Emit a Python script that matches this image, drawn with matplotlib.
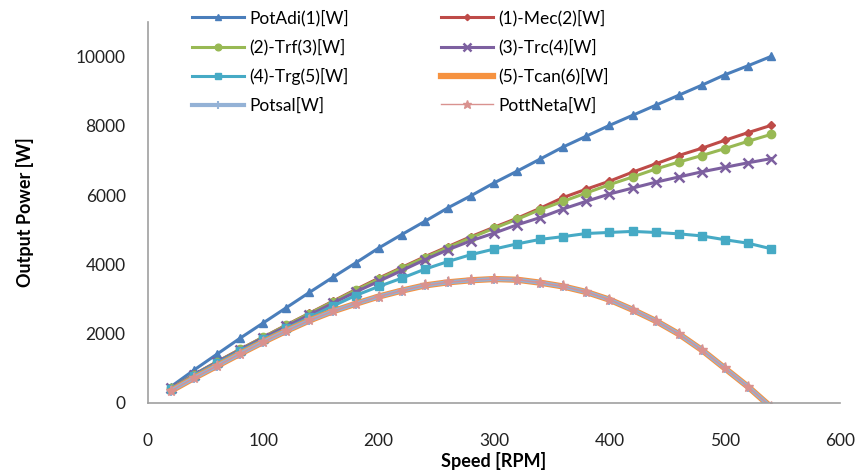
import numpy as np
import matplotlib.pyplot as plt

plt.rcParams['font.family'] = ['Lato', 'DejaVu Sans']

speed = list(range(20, 541, 20))

pot_adi = [470, 950, 1410, 1870, 2310, 2750, 3190, 3620, 4040, 4470, 4860, 5240, 5630, 5980,
           6350, 6690, 7040, 7390, 7700, 8010, 8300, 8590, 8880, 9170, 9470, 9730, 10000]
mec = [430, 820, 1190, 1550, 1900, 2250, 2590, 2930, 3270, 3600, 3910, 4220, 4510, 4800,
       5070, 5330, 5620, 5930, 6170, 6400, 6660, 6900, 7140, 7350, 7580, 7800, 8010]
trf = [425, 815, 1185, 1545, 1895, 2240, 2580, 2915, 3250, 3575, 3890, 4195, 4485, 4770,
       5040, 5300, 5580, 5820, 6060, 6300, 6520, 6750, 6950, 7140, 7340, 7550, 7750]
trc = [420, 810, 1175, 1530, 1875, 2210, 2540, 2870, 3200, 3510, 3820, 4130, 4420, 4680,
       4900, 5140, 5350, 5600, 5820, 6030, 6200, 6370, 6520, 6670, 6800, 6930, 7050]
trg = [410, 790, 1150, 1500, 1830, 2150, 2470, 2790, 3100, 3360, 3600, 3860, 4080, 4280,
       4440, 4590, 4720, 4800, 4890, 4920, 4950, 4920, 4880, 4820, 4710, 4610, 4450]
tcan = [350, 720, 1070, 1420, 1760, 2080, 2380, 2640, 2860, 3070, 3240, 3390, 3480, 3540,
        3575, 3555, 3470, 3360, 3200, 2980, 2690, 2370, 1990, 1530, 1000, 470, -120]
potsal = list(tcan)
pott_neta = list(tcan)

fig = plt.figure(figsize=(8.6, 4.74), dpi=100)
ax = fig.add_axes([0.172, 0.150, 0.805, 0.804])

h1, = ax.plot(speed, pot_adi, color='#4A7EBB', lw=2.2, marker='^', ms=6, label='PotAdi(1)[W]')
h2, = ax.plot(speed, mec, color='#BE4B48', lw=2.2, marker='D', ms=4, label='(1)-Mec(2)[W]')
h3, = ax.plot(speed, trf, color='#98B954', lw=2.2, marker='o', ms=6, label='(2)-Trf(3)[W]')
h4, = ax.plot(speed, trc, color='#7D60A0', lw=2.2, marker='x', ms=7, mew=1.8, label='(3)-Trc(4)[W]')
h5, = ax.plot(speed, trg, color='#46AAC5', lw=2.2, marker='s', ms=6, label='(4)-Trg(5)[W]')
h6, = ax.plot(speed, tcan, color='#F69240', lw=4.5, label='(5)-Tcan(6)[W]')
h7, = ax.plot(speed, potsal, color='#94B2D6', lw=3, marker='|', ms=7, mew=1.5, label='Potsal[W]')
h8, = ax.plot(speed, pott_neta, color='#D9928F', lw=1, marker='*', ms=8, label='PottNeta[W]')

ax.set_xlim(0, 600)
ax.set_ylim(0, 11000)
ax.set_xticks(np.arange(0, 601, 100))
ax.set_yticks(np.arange(0, 10001, 2000))
ax.tick_params(length=0, labelsize=12.5, colors='#222222')
ax.tick_params(axis='x', pad=22)
ax.tick_params(axis='y', pad=16)
for s in ['top', 'right']:
    ax.spines[s].set_visible(False)
for s in ['left', 'bottom']:
    ax.spines[s].set_color('#A0A0A0')
    ax.spines[s].set_linewidth(1.2)

ax.set_xlabel('Speed [RPM]', fontsize=13, fontweight='bold', labelpad=2)
ax.set_ylabel('Output Power [W]', fontsize=13, fontweight='bold', labelpad=30)

handles = [h1, h3, h5, h7, h2, h4, h6, h8]
fig.legend(handles=handles, labels=[h.get_label() for h in handles], ncol=2,
           loc='upper left', bbox_to_anchor=(0.205, 1.012), frameon=False,
           fontsize=12.5, handlelength=3.0, handletextpad=0.3, columnspacing=5.3,
           labelspacing=0.72, markerscale=0.8)

fig.savefig('out.png', dpi=100)
